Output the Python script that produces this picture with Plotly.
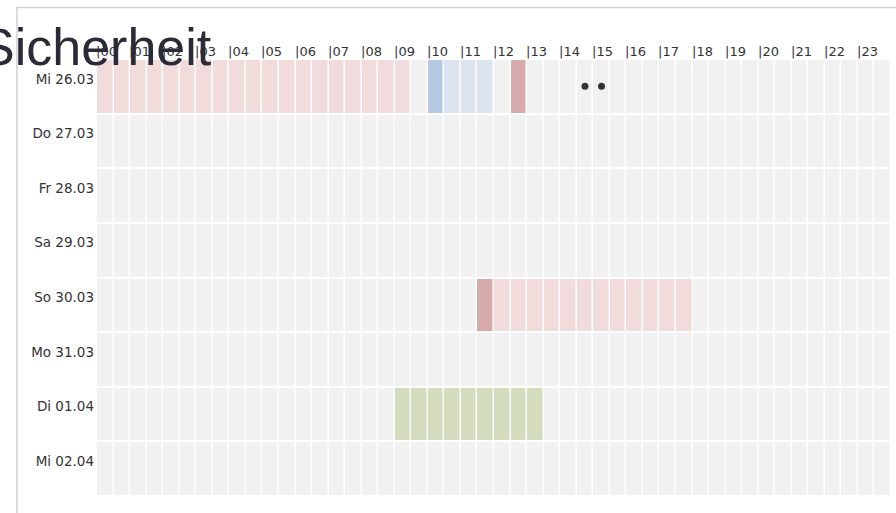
import plotly.graph_objects as go

# ---- data ----
days = ["Mi 26.03", "Do 27.03", "Fr 28.03", "Sa 29.03",
        "So 30.03", "Mo 31.03", "Di 01.04", "Mi 02.04"]
hour_labels = ["|00", "|01", "|02", "|03", "|04", "|05", "|06", "|07",
               "|08", "|09", "|10", "|11", "|12", "|13", "|14", "|15",
               "|16", "|17", "|18", "|19", "|20", "|21", "|22", "|23"]
slots_per_hour = 2
n_slots = 48

# status segments: day, first half-hour slot, last half-hour slot, status code
seg_day = ["Mi 26.03", "Mi 26.03", "Mi 26.03", "Mi 26.03",
           "So 30.03", "So 30.03", "Di 01.04"]
seg_start = [0, 20, 21, 25, 23, 24, 18]
seg_end = [18, 20, 23, 25, 23, 35, 26]
seg_status = [1, 4, 3, 2, 2, 1, 5]

# markers (dots)
dot_day = ["Mi 26.03", "Mi 26.03"]
dot_slot = [29, 30]

status_colors = ["#f1f1f1",  # 0 empty
                 "#f2dbdb",  # 1 light red
                 "#d7abab",  # 2 dark red
                 "#dae3ef",  # 3 light blue
                 "#b5c8e1",  # 4 dark blue
                 "#d3dcbc"]  # 5 green

# ---- build matrix ----
z = [[0] * n_slots for _ in days]
for d, s, e, st in zip(seg_day, seg_start, seg_end, seg_status):
    r = days.index(d)
    for c in range(s, e + 1):
        z[r][c] = st

n = len(status_colors)
colorscale = []
for i, col in enumerate(status_colors):
    colorscale.append([i / n, col])
    colorscale.append([(i + 1) / n, col])

fig = go.Figure()
fig.add_trace(go.Heatmap(
    z=z, x=list(range(n_slots)), y=days,
    zmin=-0.5, zmax=n - 0.5, colorscale=colorscale, showscale=False,
    xgap=1.5, ygap=2, hoverinfo="skip"))
fig.add_trace(go.Scatter(
    x=dot_slot, y=dot_day, mode="markers",
    marker=dict(color="#333333", size=7), hoverinfo="skip", showlegend=False))

# hour labels along the top
for h, lab in enumerate(hour_labels):
    fig.add_annotation(x=h * slots_per_hour - 0.5, y=1, xref="x", yref="paper",
                       text=lab, showarrow=False, xanchor="left", yanchor="bottom",
                       xshift=-3, yshift=-2,
                       font=dict(family="DejaVu Sans", size=13, color="#333333"))

# title
fig.add_annotation(x=-0.15, y=1.0275, xref="paper", yref="paper",
                   text="Sicherheit", showarrow=False, xanchor="left", yanchor="middle",
                   font=dict(family="Liberation Sans", size=52, color="#2b2b38"))

# frame
fig.add_shape(type="rect", xref="paper", yref="paper",
              x0=-0.1008, x1=1.03, y0=-0.08, y1=1.1178,
              line=dict(color="#d2d2d2", width=1.5), layer="below")

fig.update_layout(
    width=896, height=513,
    margin=dict(l=97, r=5, t=59, b=17, autoexpand=False),
    paper_bgcolor="white", plot_bgcolor="white",
    showlegend=False,
    xaxis=dict(range=[-0.5, n_slots - 0.5], showgrid=False, zeroline=False,
               showticklabels=False, fixedrange=True, automargin=False),
    yaxis=dict(autorange="reversed", showgrid=False, zeroline=False,
               tickfont=dict(family="DejaVu Sans", size=13.5, color="#333333"),
               ticks="", ticklabelposition="outside top", ticklabelstandoff=2,
               ticklabelshift=-2, fixedrange=True, automargin=False),
)

fig.write_html("out.html", config={"displayModeBar": False},
               post_script="document.body.style.margin='0';")
